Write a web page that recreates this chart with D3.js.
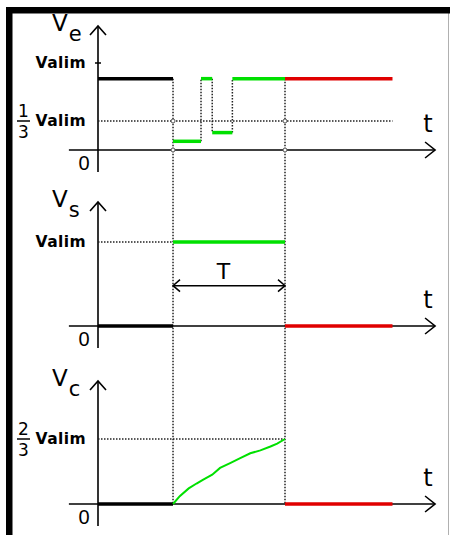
<!DOCTYPE html>
<html>
<head>
<meta charset="utf-8">
<script src="https://cdn.jsdelivr.net/npm/d3@7/dist/d3.min.js"></script>
<style>
  html, body { margin: 0; padding: 0; background: #fff; }
  svg { display: block; }
  text { font-family: "DejaVu Sans", sans-serif; fill: #000; }
</style>
</head>
<body>
<svg id="chart" width="450" height="535"></svg>
<script>
// Time is measured in units of the pulse width T: 0 = trigger, 1 = end of pulse.
const timeAxis = [-0.93, 2.34];          // horizontal axis extent
const timeOrigin = -0.67;                // where the vertical axis sits
const timeStop = 1.96;                   // end of the drawn traces
const timeMarks = [0, 1];                // trigger and end of the output pulse

// Ve: trigger input, piecewise constant (fraction of Valim)
const veEdges  = [-0.67, 0, 0.25, 0.35, 0.53, 1, 1.96];
const veLevels = [0.82, 0.10, 0.82, 0.20, 0.82, 0.82];
const veTickValues = [1, 1 / 3];
const veTickLabels = ["Valim", "1/3 Valim"];

// Vs: output
const vsEdges  = [-0.67, 0, 1, 1.96];
const vsLevels = [0, 1, 0];
const vsTickValues = [1];
const vsTickLabels = ["Valim"];
const periodLevel = 0.48;                // height of the T dimension arrow

// Vc: timing capacitor voltage
const vcEdges  = [-0.67, 0, 1, 1.96];
const vcLevels = [0, null, 0];
const vcTimes  = [0, 0.06, 0.14, 0.21, 0.27, 0.35, 0.42, 0.51, 0.60, 0.69, 0.78, 0.87, 0.93, 1.0];
const vcValues = [0, 0.08, 0.16, 0.21, 0.25, 0.30, 0.37, 0.42, 0.47, 0.52, 0.55, 0.59, 0.62, 2 / 3];
const vcTickValues = [2 / 3];
const vcTickLabels = ["2/3 Valim"];

const COLORS = { before: "#000", during: "#00e000", after: "#e00000" };
const DOT = "#222";

const svg = d3.select("#chart");

// window frame
svg.append("rect").attr("x", 0).attr("y", 0).attr("width", 450).attr("height", 535).attr("fill", "#fff");
svg.append("line").attr("x1", 448.5).attr("x2", 448.5).attr("y1", 7).attr("y2", 535)
  .attr("stroke", "#b0b0b0").attr("stroke-width", 1);
svg.append("rect").attr("x", 6).attr("y", 7).attr("width", 444).attr("height", 6.5).attr("fill", "#000");
svg.append("rect").attr("x", 6).attr("y", 7).attr("width", 6.5).attr("height", 528).attr("fill", "#000");

const x = d3.scaleLinear().domain([timeOrigin, 1]).range([98, 285]);

const panels = [
  { name: "V", sub: "e", top: 26,  y: d3.scaleLinear().domain([0, 1]).range([150, 63]) },
  { name: "V", sub: "s", top: 202, y: d3.scaleLinear().domain([0, 1]).range([326, 242]) },
  { name: "V", sub: "c", top: 381, y: d3.scaleLinear().domain([0, 1]).range([504, 406.5]) }
];

const phaseColor = t => t < timeMarks[0] ? COLORS.before : (t < timeMarks[1] ? COLORS.during : COLORS.after);

function dotted(g, x1, y1, x2, y2) {
  g.append("line").attr("x1", x1).attr("y1", y1).attr("x2", x2).attr("y2", y2)
    .attr("stroke", DOT).attr("stroke-width", 1.5).attr("stroke-dasharray", "1.5 1.5");
}

function drawAxes(p) {
  const g = svg.append("g");
  const y0 = p.y(0);
  const ax = x(timeOrigin);
  // horizontal time axis with open arrowhead
  g.append("line").attr("x1", x(timeAxis[0])).attr("x2", x(timeAxis[1])).attr("y1", y0).attr("y2", y0)
    .attr("stroke", "#000").attr("stroke-width", 1.6);
  g.append("path")
    .attr("d", `M${x(timeAxis[1]) - 10},${y0 - 8} L${x(timeAxis[1])},${y0} L${x(timeAxis[1]) - 10},${y0 + 8}`)
    .attr("fill", "none").attr("stroke", "#000").attr("stroke-width", 1.6);
  // vertical axis with open arrowhead
  g.append("line").attr("x1", ax).attr("x2", ax).attr("y1", p.top).attr("y2", y0 + 22)
    .attr("stroke", "#000").attr("stroke-width", 1.6);
  g.append("path")
    .attr("d", `M${ax - 8},${p.top + 9} L${ax},${p.top} L${ax + 8},${p.top + 9}`)
    .attr("fill", "none").attr("stroke", "#000").attr("stroke-width", 1.6);
  // labels
  const lab = g.append("text").attr("x", 52).attr("y", p.top + 5).style("font-size", "23px");
  lab.append("tspan").text(p.name);
  lab.append("tspan").attr("dx", 1).attr("dy", 10).style("font-size", "21px").text(p.sub);
  g.append("text").attr("x", 428).attr("y", y0 - 18).attr("text-anchor", "middle")
    .style("font-size", "24px").text("t");
  g.append("text").attr("x", 84).attr("y", y0 + 20).attr("text-anchor", "middle")
    .style("font-family", "Liberation Sans, sans-serif").style("font-size", "20px").text("0");
  return g;
}

function drawTicks(p, values, labels) {
  const g = svg.append("g");
  values.forEach((v, i) => {
    const yy = p.y(v);
    const parts = labels[i].split(" ");
    const word = parts[parts.length - 1];
    g.append("text").attr("x", 86).attr("y", yy).attr("text-anchor", "end")
      .attr("dominant-baseline", "central").style("font-size", "15.5px")
      .style("font-weight", "bold").style("letter-spacing", "0.4px").text(word);
    if (parts.length > 1) {
      const [num, den] = parts[0].split("/");
      g.append("text").attr("x", 23.5).attr("y", yy - 4).attr("text-anchor", "middle")
        .style("font-size", "17px").text(num);
      g.append("line").attr("x1", 17).attr("x2", 30).attr("y1", yy).attr("y2", yy)
        .attr("stroke", "#000").attr("stroke-width", 1.5);
      g.append("text").attr("x", 23.5).attr("y", yy + 17).attr("text-anchor", "middle")
        .style("font-size", "17px").text(den);
    }
  });
  return g;
}

function drawLevels(p, edges, levels) {
  const g = svg.append("g");
  levels.forEach((lv, i) => {
    if (lv === null) return;
    g.append("line").attr("x1", x(edges[i])).attr("x2", x(edges[i + 1]))
      .attr("y1", p.y(lv)).attr("y2", p.y(lv))
      .attr("stroke", phaseColor(edges[i])).attr("stroke-width", 3.5);
  });
  return g;
}

const [pe, ps, pc] = panels;
panels.forEach(drawAxes);

// guide lines
const guides = svg.append("g");
// Ve threshold at 1/3 Valim
dotted(guides, x(timeOrigin), pe.y(1 / 3), x(timeStop), pe.y(1 / 3));
// Ve transitions inside the pulse
for (let i = 2; i < veEdges.length - 2; i++) {
  dotted(guides, x(veEdges[i]), pe.y(veLevels[i - 1]), x(veEdges[i]), pe.y(veLevels[i]));
}
// trigger and end-of-pulse markers through all three panels
timeMarks.forEach(t => dotted(guides, x(t), pe.y(veLevels[0]), x(t), pc.y(0)));
// Vs level guide
dotted(guides, x(timeOrigin), ps.y(1), x(timeMarks[0]), ps.y(1));
// Vc threshold guide at 2/3 Valim
dotted(guides, x(timeOrigin), pc.y(2 / 3), x(timeMarks[1]), pc.y(2 / 3));

// crossing markers on the Ve threshold and axis
timeMarks.forEach(t => {
  [1 / 3, 0].forEach(v => {
    guides.append("circle").attr("cx", x(t)).attr("cy", pe.y(v)).attr("r", 2)
      .attr("fill", "#fff").attr("stroke", "#555").attr("stroke-width", 1);
  });
});

drawTicks(pe, veTickValues, veTickLabels);
drawTicks(ps, vsTickValues, vsTickLabels);
drawTicks(pc, vcTickValues, vcTickLabels);
// small tick on the Ve axis at Valim
svg.append("line").attr("x1", x(timeOrigin) - 3).attr("x2", x(timeOrigin) + 3)
  .attr("y1", pe.y(1)).attr("y2", pe.y(1)).attr("stroke", "#000").attr("stroke-width", 1.5);

drawLevels(pe, veEdges, veLevels);
drawLevels(ps, vsEdges, vsLevels);
drawLevels(pc, vcEdges, vcLevels);

// capacitor charging curve
svg.append("path")
  .datum(vcTimes.map((t, i) => [t, vcValues[i]]))
  .attr("d", d3.line().x(d => x(d[0])).y(d => pc.y(d[1])))
  .attr("fill", "none").attr("stroke", COLORS.during).attr("stroke-width", 2);

// pulse width dimension arrow
const ty = ps.y(periodLevel);
const ta = svg.append("g").attr("fill", "none").attr("stroke", "#000").attr("stroke-width", 1.5);
ta.append("line").attr("x1", x(timeMarks[0])).attr("x2", x(timeMarks[1])).attr("y1", ty).attr("y2", ty);
ta.append("path").attr("d", `M${x(timeMarks[0]) + 7},${ty - 6} L${x(timeMarks[0])},${ty} L${x(timeMarks[0]) + 7},${ty + 6}`);
ta.append("path").attr("d", `M${x(timeMarks[1]) - 7},${ty - 6} L${x(timeMarks[1])},${ty} L${x(timeMarks[1]) - 7},${ty + 6}`);
svg.append("text").attr("x", x(0.45)).attr("y", ty - 7).attr("text-anchor", "middle")
  .style("font-size", "22px").text("T");
</script>
</body>
</html>
